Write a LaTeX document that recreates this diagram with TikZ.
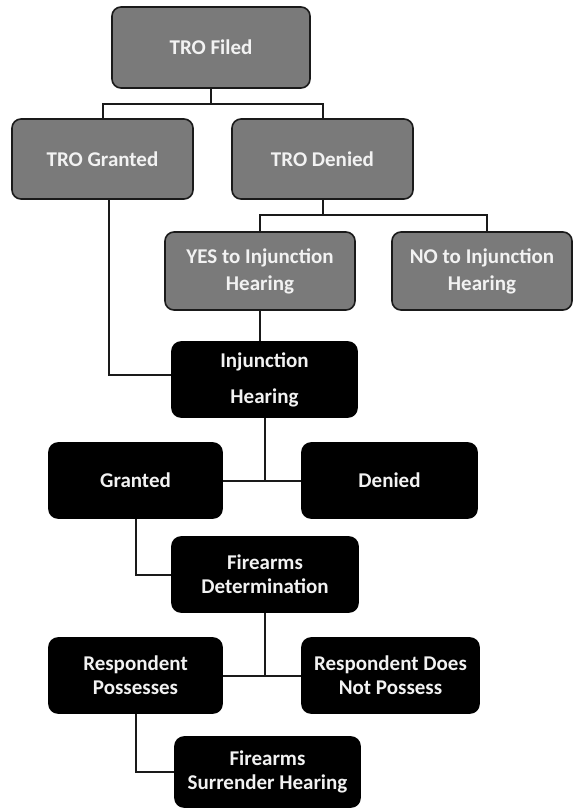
\documentclass[tikz,border=0pt]{standalone}
\usepackage{fontspec}
\setmainfont{Carlito}
\definecolor{boxgray}{HTML}{7A7A7A}
\definecolor{linecol}{HTML}{1A1A1A}
\begin{document}
\begin{tikzpicture}[x=1pt,y=-1pt,
  box/.style={rectangle, rounded corners=9pt, line width=1.6pt, draw=linecol,
    text=white!95!black, align=center, inner sep=0pt,
    font=\bfseries\fontsize{21}{24}\selectfont},
  graybox/.style={box, fill=boxgray},
  blackbox/.style={box, fill=black, draw=black},
  conn/.style={line width=2pt, draw=linecol}]
\useasboundingbox (0,0) rectangle (573,809);
% nodes
\node[graybox, minimum width=198pt, minimum height=81pt] (filed) at (211,47.5) {TRO Filed};
\node[graybox, minimum width=181pt, minimum height=80pt] (tgranted) at (102.5,159) {TRO Granted};
\node[graybox, minimum width=181pt, minimum height=80pt] (tdenied) at (322.5,159) {TRO Denied};
\node[graybox, minimum width=190pt, minimum height=78pt, font=\bfseries\fontsize{21}{27}\selectfont] (yes) at (260,271) {YES to Injunction\\Hearing};
\node[graybox, minimum width=180pt, minimum height=78pt, font=\bfseries\fontsize{21}{27}\selectfont] (no) at (482,271) {NO to Injunction\\Hearing};
\node[blackbox, minimum width=185pt, minimum height=75pt, font=\bfseries\fontsize{21}{36}\selectfont] (inj) at (264.5,379.5) {Injunction\\Hearing};
\node[blackbox, minimum width=173pt, minimum height=75pt] (granted) at (135.5,480.5) {Granted};
\node[blackbox, minimum width=175pt, minimum height=75pt] (denied) at (389.5,480.5) {Denied};
\node[blackbox, minimum width=186pt, minimum height=75pt] (fdet) at (265,574.5) {Firearms\\Determination};
\node[blackbox, minimum width=173pt, minimum height=75pt] (rposs) at (135.5,675.5) {Respondent\\Possesses};
\node[blackbox, minimum width=177pt, minimum height=75pt] (rnot) at (390.5,675.5) {Respondent Does\\Not Possess};
\node[blackbox, minimum width=185pt, minimum height=70pt] (fsur) at (267.5,772) {Firearms\\Surrender Hearing};
% junction coordinates
\coordinate (j1) at (211,104);
\coordinate (j2) at (322.5,215);
\coordinate (nodrop) at (487,232);
\coordinate (tgdrop) at (109,199);
% connectors
\draw[conn] (filed.south) -- (j1);
\draw[conn] (tgranted.north) |- (j1) -| (tdenied.north);
\draw[conn] (tdenied.south) -- (j2);
\draw[conn] (yes.north) |- (j2) -| (nodrop);
\draw[conn] (yes.south) -- (yes.south |- inj.north);
\draw[conn] (tgdrop) |- ([yshift=5pt]inj.west);
\draw[conn] (inj.south) -- (inj.south |- granted.east);
\draw[conn] (granted.east) -- (denied.west);
\draw[conn] (granted.south) |- (fdet.west);
\draw[conn] (fdet.south) -- (fdet.south |- rposs.east);
\draw[conn] (rposs.east) -- (rnot.west);
\draw[conn] (rposs.south) |- (fsur.west);
\end{tikzpicture}
\end{document}
